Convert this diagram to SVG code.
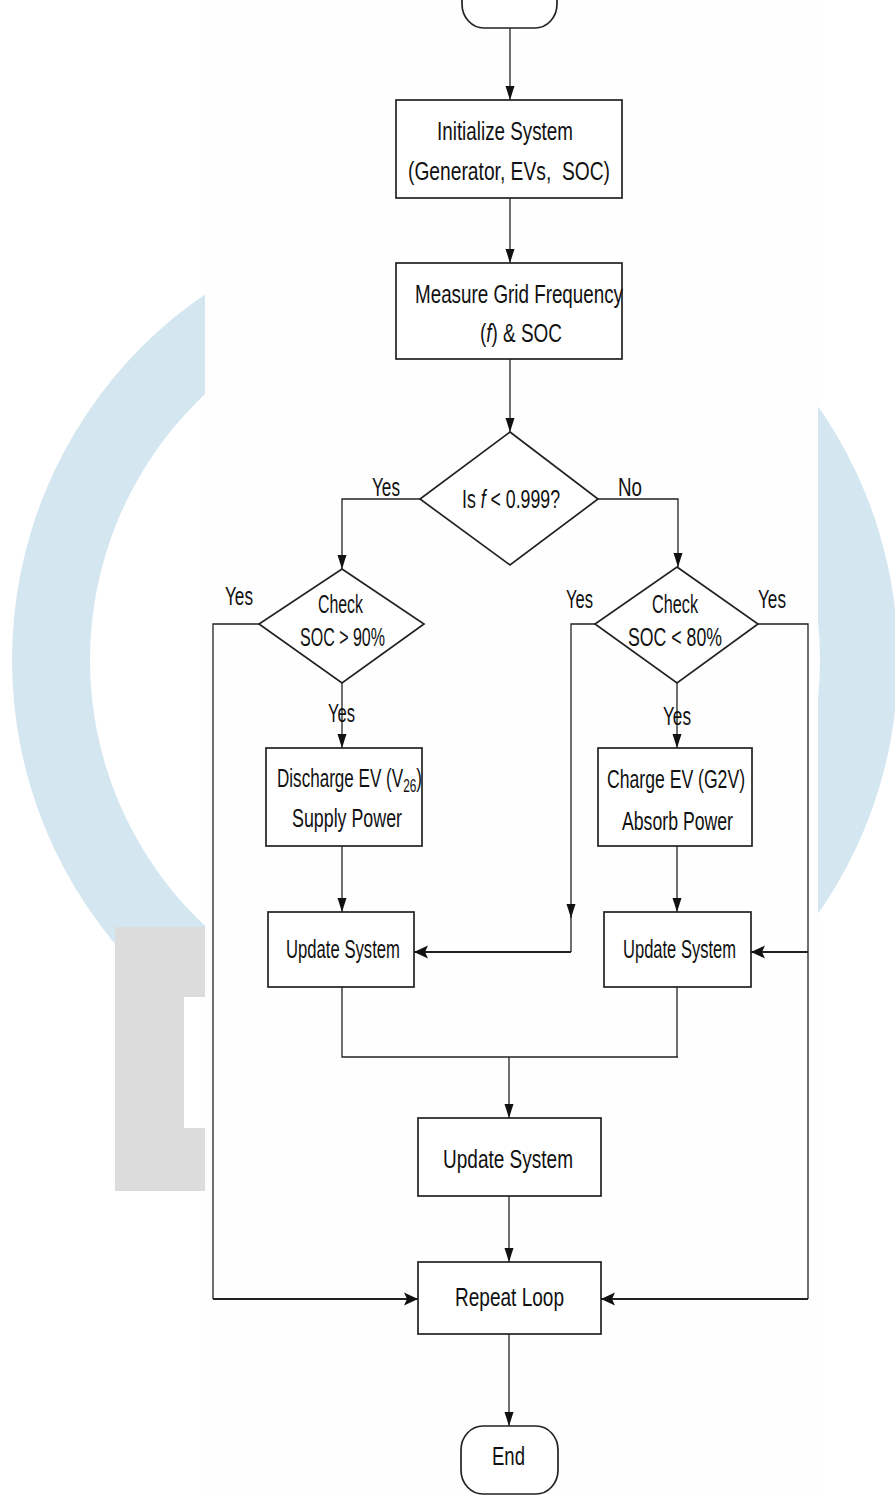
<svg xmlns="http://www.w3.org/2000/svg" width="895" height="1495" viewBox="0 0 895 1495">
<defs>
<style>
.box{fill:#ffffff;stroke:#222;stroke-width:1.7}
.ln{fill:none;stroke:#222;stroke-width:1.3}
.lnb{fill:none;stroke:#222;stroke-width:2}
text{font-family:"Liberation Sans",Arial,sans-serif;font-size:26px;fill:#111}
.it{font-style:italic}
</style>
<marker id="ah" markerUnits="userSpaceOnUse" markerWidth="14" markerHeight="10" refX="14" refY="5" orient="auto">
<path d="M0,0.5 L14,5 L0,9.5 z" fill="#111"/>
</marker>
<marker id="ahb" markerUnits="userSpaceOnUse" markerWidth="14" markerHeight="14" refX="14" refY="7" orient="auto">
<path d="M0,0.5 L14,7 L0,13.5 L3,7 z" fill="#111"/>
</marker>
</defs>
<rect x="0" y="0" width="895" height="1495" fill="#ffffff"/>
<g id="watermark">
<path d="M455,217 A443,443 0 1,0 455,1103 A443,443 0 1,0 455,217 Z M455,295 A365,365 0 1,1 455,1025 A365,365 0 1,1 455,295 Z" fill="#d4e7f1" fill-rule="evenodd"/>
<path d="M115,927 H205 V1191 H115 Z" fill="#dcdcdc"/>
<rect x="184" y="997" width="21" height="131" fill="#ffffff"/>
<rect x="205" y="0" width="613" height="1495" fill="#fefefe"/>
</g>
<g id="connectors">
<path class="ln" d="M510,28 V100" marker-end="url(#ah)"/>
<path class="ln" d="M510,198 V263" marker-end="url(#ah)"/>
<path class="ln" d="M510,359 V432" marker-end="url(#ah)"/>
<path class="ln" d="M420,499 H342 V569" marker-end="url(#ah)"/>
<path class="ln" d="M598,499 H678 V567" marker-end="url(#ah)"/>
<path class="ln" d="M342,683 V748" marker-end="url(#ah)"/>
<path class="ln" d="M677,683 V748" marker-end="url(#ah)"/>
<path class="ln" d="M259,624 H213 V1299"/>
<path class="lnb" d="M213,1299 H418" marker-end="url(#ahb)"/>
<path class="ln" d="M342,846 V912" marker-end="url(#ah)"/>
<path class="ln" d="M677,846 V912" marker-end="url(#ah)"/>
<path class="ln" d="M595,624 H571 V918" marker-end="url(#ah)"/>
<path class="ln" d="M571,916 V952"/>
<path class="lnb" d="M571,952 H414" marker-end="url(#ahb)"/>
<path class="ln" d="M758,624 H808 V1299"/>
<path class="lnb" d="M808,1299 H601" marker-end="url(#ahb)"/>
<path class="lnb" d="M808,952 H751" marker-end="url(#ahb)"/>
<path class="ln" d="M342,987 V1057 H678 M677,987 V1057"/>
<path class="ln" d="M509,1057 V1118" marker-end="url(#ah)"/>
<path class="ln" d="M509,1196 V1262" marker-end="url(#ah)"/>
<path class="ln" d="M509,1334 V1426" marker-end="url(#ah)"/>
</g>
<g id="start">
<rect class="box" x="462" y="-40" width="95" height="68" rx="22" ry="24"/>
</g>
<g id="init">
<rect class="box" x="396" y="100" width="226" height="98"/>
<text x="437" y="140" textLength="136" lengthAdjust="spacingAndGlyphs">Initialize System</text>
<text x="408" y="180" textLength="202" lengthAdjust="spacingAndGlyphs" xml:space="preserve">(Generator, EVs,  SOC)</text>
</g>
<g id="measure">
<rect class="box" x="396" y="263" width="226" height="96"/>
<text x="415" y="303" textLength="208" lengthAdjust="spacingAndGlyphs">Measure Grid Frequency</text>
<text x="480" y="342" textLength="82" lengthAdjust="spacingAndGlyphs">(<tspan class="it">f</tspan>) &amp; SOC</text>
</g>
<g id="decision-f">
<polygon class="box" points="510,432 598,499 510,565 420,499"/>
<text x="462" y="508" textLength="98" lengthAdjust="spacingAndGlyphs">Is <tspan class="it">f</tspan> &lt; 0.999?</text>
</g>
<g id="labels">
<text x="372" y="496" textLength="28" lengthAdjust="spacingAndGlyphs">Yes</text>
<text x="618" y="496" textLength="24" lengthAdjust="spacingAndGlyphs">No</text>
<text x="225" y="605" textLength="28" lengthAdjust="spacingAndGlyphs">Yes</text>
<text x="328" y="722" textLength="27" lengthAdjust="spacingAndGlyphs">Yes</text>
<text x="566" y="608" textLength="27" lengthAdjust="spacingAndGlyphs">Yes</text>
<text x="758" y="608" textLength="28" lengthAdjust="spacingAndGlyphs">Yes</text>
<text x="663" y="725" textLength="28" lengthAdjust="spacingAndGlyphs">Yes</text>
</g>
<g id="check-high">
<polygon class="box" points="342,569 424,624 342,683 259,624"/>
<text x="318" y="613" textLength="45" lengthAdjust="spacingAndGlyphs">Check</text>
<text x="300" y="646" textLength="85" lengthAdjust="spacingAndGlyphs">SOC &gt; 90%</text>
</g>
<g id="check-low">
<polygon class="box" points="677,567 758,624 677,683 595,624"/>
<text x="652" y="613" textLength="46" lengthAdjust="spacingAndGlyphs">Check</text>
<text x="628" y="646" textLength="94" lengthAdjust="spacingAndGlyphs">SOC &lt; 80%</text>
</g>
<g id="discharge">
<rect class="box" x="266" y="748" width="156" height="98"/>
<text x="277" y="787" textLength="145" lengthAdjust="spacingAndGlyphs">Discharge EV (V<tspan font-size="18" dy="5">26</tspan><tspan dy="-5">)</tspan></text>
<text x="292" y="827" textLength="110" lengthAdjust="spacingAndGlyphs">Supply Power</text>
</g>
<g id="charge">
<rect class="box" x="598" y="748" width="154" height="98"/>
<text x="607" y="788" textLength="138" lengthAdjust="spacingAndGlyphs">Charge EV (G2V)</text>
<text x="622" y="830" textLength="111" lengthAdjust="spacingAndGlyphs">Absorb Power</text>
</g>
<g id="update-left">
<rect class="box" x="268" y="912" width="146" height="75"/>
<text x="286" y="958" textLength="114" lengthAdjust="spacingAndGlyphs">Update System</text>
</g>
<g id="update-right">
<rect class="box" x="604" y="912" width="147" height="75"/>
<text x="623" y="958" textLength="113" lengthAdjust="spacingAndGlyphs">Update System</text>
</g>
<g id="update-main">
<rect class="box" x="418" y="1118" width="183" height="78"/>
<text x="443" y="1168" font-size="27" textLength="130" lengthAdjust="spacingAndGlyphs">Update System</text>
</g>
<g id="repeat">
<rect class="box" x="418" y="1262" width="183" height="72"/>
<text x="455" y="1306" textLength="109" lengthAdjust="spacingAndGlyphs">Repeat Loop</text>
</g>
<g id="end">
<rect class="box" x="461" y="1426" width="97" height="68" rx="22" ry="24"/>
<text x="492" y="1465" textLength="33" lengthAdjust="spacingAndGlyphs">End</text>
</g>
</svg>
